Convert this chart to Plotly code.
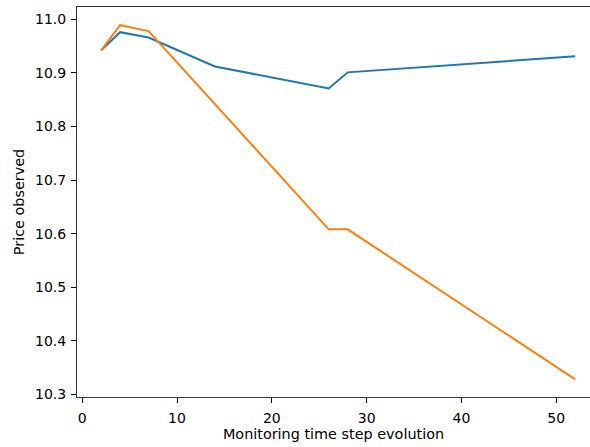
import plotly.graph_objects as go

# Monitoring time steps and observed prices for the two series
steps = [2, 4, 7, 14, 26, 28, 52]
price_a = [10.942, 10.976, 10.966, 10.912, 10.871, 10.901, 10.931]
price_b = [10.942, 10.989, 10.978, 10.842, 10.608, 10.608, 10.328]

y_ticks = [10.3, 10.4, 10.5, 10.6, 10.7, 10.8, 10.9, 11.0]
x_ticks = [0, 10, 20, 30, 40, 50]

fig = go.Figure()
fig.add_trace(go.Scatter(x=steps, y=price_a, mode="lines",
                         line=dict(color="#1f77b4", width=2)))
fig.add_trace(go.Scatter(x=steps, y=price_b, mode="lines",
                         line=dict(color="#ff7f0e", width=2)))

tick_font = dict(family="DejaVu Sans", size=14, color="#000000")
title_font = dict(family="DejaVu Sans", size=14.4, color="#000000")

fig.update_layout(
    width=590, height=447,
    margin=dict(l=77, r=0, t=7, b=50),
    plot_bgcolor="white", paper_bgcolor="white",
    showlegend=False,
    font=tick_font,
    xaxis=dict(
        range=[-0.55, 53.56],
        tickmode="array", tickvals=x_ticks, tickfont=tick_font,
        ticks="outside", ticklen=5, tickwidth=1, tickcolor="#000",
        ticklabelstandoff=3,
        showline=True, linecolor="#333", linewidth=1, mirror=True,
        showgrid=False, zeroline=False,
        title=dict(text="Monitoring time step evolution", font=title_font, standoff=0),
    ),
    yaxis=dict(
        range=[10.295, 11.023],
        tickmode="array", tickvals=y_ticks, tickformat=".1f", tickfont=tick_font,
        ticks="outside", ticklen=5, tickwidth=1, tickcolor="#000",
        ticklabelstandoff=2,
        showline=True, linecolor="#333", linewidth=1,
        showgrid=False, zeroline=False,
        title=dict(text="Price observed", font=title_font, standoff=6),
    ),
)

fig.write_html("out.html")
